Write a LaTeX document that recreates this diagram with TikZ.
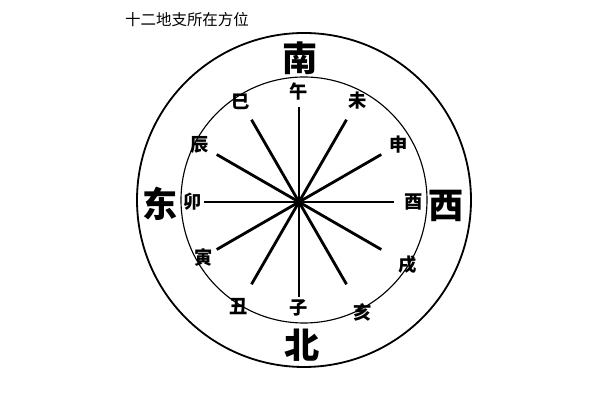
\documentclass[tikz,border=0pt]{standalone}
\usepackage{fontspec}
\newfontfamily\cjk{Noto Sans CJK SC}
\usetikzlibrary{calc}
\tikzset{
	quarter/.style={font=\cjk\bfseries\fontsize{25}{25}\selectfont},
	branch/.style={font=\cjk\bfseries\fontsize{13}{14}\selectfont},
	spoke/.style={line width=2pt},
}
\begin{document}
\begin{tikzpicture}[x=0.025cm,y=0.025cm]
	\useasboundingbox (0,0) rectangle (600,400);
	\node[font=\cjk\fontsize{11}{12}\selectfont] (title) at (187,380) {十二地支所在方位};
	\coordinate (o) at (304,200);
	\coordinate (c) at (299,198);
	\draw[line width=1.3pt] (o) circle (167);
	\draw[line width=0.8pt] (o) circle (123);
	% spokes and branches
	\foreach \a/\r/\t/\n in {90/110/午/wu,60/117/未/wei,30/115/申/shen,0/115/酉/you,
		-30/125/戌/xu,-60/127/亥/hai,-90/106/子/zi,-120/121/丑/chou,
		-150/110/寅/yin,180/106/卯/mao,150/115/辰/chen,120/116/巳/si}{
		\coordinate (e\n) at ($(c)+(\a:95)$);
		\draw[spoke] (c) -- (e\n);
		\node[branch] (\n) at ($(c)+(\a:\r)$) {\t};
	}
	\node[quarter] (south) at (300,342) {南};
	\node[quarter] (north) at (302,55) {北};
	\node[quarter] (east) at (160,196) {东};
	\node[quarter] (west) at (446,194) {西};
\end{tikzpicture}
\end{document}
